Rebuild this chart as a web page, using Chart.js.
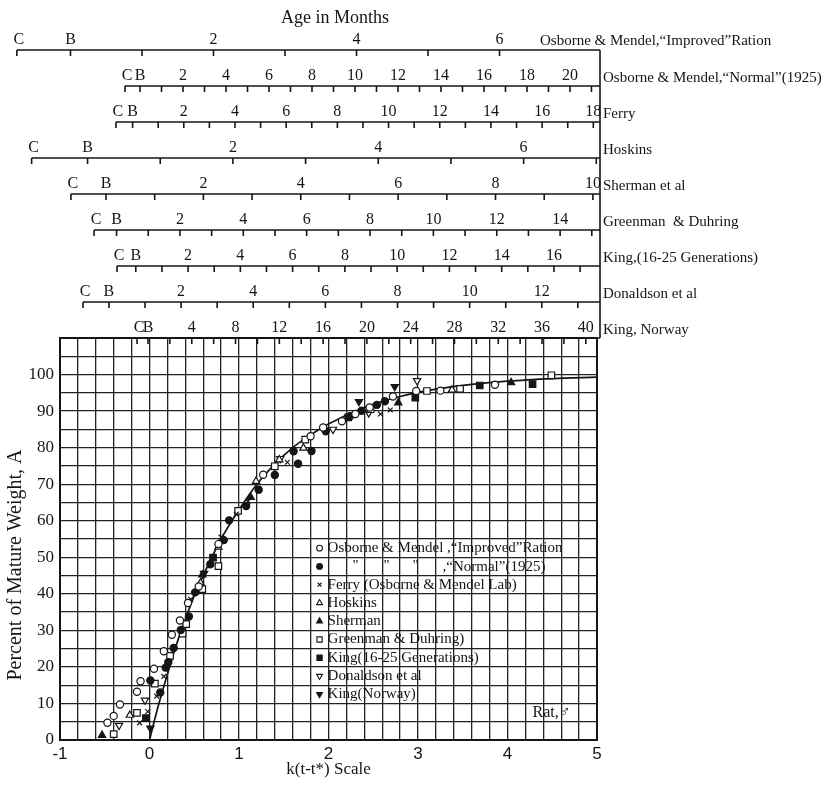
<!DOCTYPE html>
<html>
<head>
<meta charset="utf-8">
<title>Rat growth, percent of mature weight</title>
<script src="https://cdn.jsdelivr.net/npm/chart.js@4.4.1/dist/chart.umd.min.js"></script>
<style>
  html, body { margin: 0; padding: 0; background: #fff; }
  canvas { display: block; }
</style>
</head>
<body>
<canvas id="growthChart" width="830" height="785"></canvas>
<script>
const LETTER_FONT = '"Liberation Serif", "DejaVu Serif", serif';
const INK = "#151515";

// main axes
const kMin = -1, kMax = 5, kStep = 0.2;
const aMin = 0, aMax = 110, aStep = 5;

// fitted growth curve
const curveK = [0, 0.1, 0.2, 0.3, 0.4, 0.5, 0.6, 0.8, 1.0, 1.2, 1.4, 1.6, 1.8, 2.0, 2.4, 2.8, 3.2, 3.6, 4.0, 4.5, 5.0];
const curveA = [0, 9.5, 18, 26, 33, 39.5, 45, 55, 63, 70, 75.5, 80, 83.5, 86.5, 91, 94, 96, 97.3, 98.2, 98.9, 99.3];

// observations: [k(t-t*), percent of mature weight]
const improvedPts = [[-0.47, 4.7], [-0.40, 6.6], [-0.33, 9.7], [-0.14, 13.2], [-0.10, 16.1], [0.05, 19.5], [0.16, 24.3], [0.25, 28.8], [0.34, 32.7], [0.43, 37.5], [0.55, 42.0], [0.77, 53.6], [1.27, 72.6], [1.80, 83.1], [1.94, 85.5], [2.15, 87.2], [2.30, 89.2], [2.46, 91.0], [2.72, 94.0], [2.98, 95.5], [3.25, 95.6], [3.86, 97.2]];
const normalPts = [[0.01, 16.3], [0.12, 13.0], [0.18, 19.8], [0.21, 21.3], [0.27, 25.2], [0.35, 30.1], [0.44, 33.8], [0.51, 40.4], [0.68, 48.1], [0.83, 54.7], [0.89, 60.1], [1.08, 64.0], [1.22, 68.5], [1.40, 72.5], [1.61, 79.0], [1.66, 75.6], [1.81, 79.1], [1.97, 84.5], [2.24, 88.6], [2.37, 90.1], [2.54, 91.7], [2.63, 92.7]];
const ferryPts = [[-0.11, 4.7], [-0.02, 7.8], [0.08, 12.0], [0.16, 17.4], [0.46, 38.5], [0.80, 55.5], [0.97, 61.8], [1.10, 65.3], [1.54, 76.0], [2.58, 89.2], [2.69, 90.3]];
const hoskinsPts = [[-0.22, 6.8], [0.57, 43.0], [0.77, 52.8], [1.19, 70.8], [1.45, 76.7], [1.72, 79.9], [3.38, 95.8]];
const shermanPts = [[-0.53, 1.3], [0.59, 45.2], [1.13, 66.4], [2.78, 92.3], [4.04, 97.8]];
const greenmanPts = [[-0.40, 1.6], [-0.14, 7.4], [0.06, 15.4], [0.23, 23.0], [0.37, 29.1], [0.41, 31.7], [0.59, 41.3], [0.77, 47.6], [0.99, 62.7], [1.40, 74.9], [1.74, 82.2], [2.47, 90.5], [3.10, 95.5], [3.47, 96.1], [4.49, 99.8]];
const kingGenPts = [[-0.04, 6.0], [0.71, 49.9], [2.22, 88.3], [2.97, 93.7], [3.69, 97.0], [4.28, 97.4]];
const donaldsonPts = [[-0.34, 4.0], [-0.05, 10.9], [1.46, 77.0], [2.05, 85.0], [2.45, 89.5], [2.99, 98.3]];
const kingNorwayPts = [[0.01, 3.2], [0.61, 45.6], [2.34, 92.6], [2.74, 96.7]];

const legendLabels = [
  "Osborne & Mendel ,\u201cImproved\u201dRation",
  "",
  "Ferry (Osborne & Mendel Lab)",
  "Hoskins",
  "Sherman",
  "Greenman & Duhring)",
  "King(16-25 Generations)",
  "Donaldson et al",
  "King(Norway)",
];

// age scales above the plot: k(t-t*) at birth and per unit of age
const ageScaleNames = [
  "Osborne & Mendel,\u201cImproved\u201dRation",
  "Osborne & Mendel,\u201cNormal\u201d(1925)",
  "Ferry",
  "Hoskins",
  "Sherman et al",
  "Greenman  & Duhring",
  "King,(16-25 Generations)",
  "Donaldson et al",
  "King, Norway",
];
const birthK = [-0.883, -0.106, -0.189, -0.692, -0.486, -0.368, -0.153, -0.453, -0.017];
const kPerUnit = [0.799, 0.2402, 0.286, 0.812, 0.544, 0.354, 0.292, 0.403, 0.1223];
const conceptionAge = [-0.75, -0.7, -0.65, -0.77, -0.72, -0.71, -0.72, -0.72, -1];
const ageTickStep = [1, 1, 1, 1, 1, 1, 1, 1, 2];
const ageLabelStep = [2, 2, 2, 2, 2, 2, 2, 2, 4];
const ageLastTick = [6, 21, 18, 7, 10, 15, 17, 13, 40];

const seriesList = [improvedPts, normalPts, ferryPts, hoskinsPts, shermanPts, greenmanPts, kingGenPts, donaldsonPts, kingNorwayPts];
const markerStyles = [
  { pointStyle: "circle", rotation: 0, filled: false, radius: 3.6 },
  { pointStyle: "circle", rotation: 0, filled: true, radius: 3.6 },
  { pointStyle: "crossRot", rotation: 0, filled: false, radius: 3.4 },
  { pointStyle: "triangle", rotation: 0, filled: false, radius: 4.2 },
  { pointStyle: "triangle", rotation: 0, filled: true, radius: 4.2 },
  { pointStyle: "rect", rotation: 0, filled: false, radius: 4.6 },
  { pointStyle: "rect", rotation: 0, filled: true, radius: 4.6 },
  { pointStyle: "triangle", rotation: 180, filled: false, radius: 4.2 },
  { pointStyle: "triangle", rotation: 180, filled: true, radius: 4.2 },
];

const datasets = seriesList.map((pts, i) => {
  const m = markerStyles[i];
  return {
    label: legendLabels[i] || "Normal (1925)",
    data: pts.map(([k, a]) => ({ x: k, y: a })),
    showLine: false,
    pointStyle: m.pointStyle,
    pointRotation: m.rotation,
    pointRadius: m.radius,
    pointHoverRadius: m.radius,
    pointBackgroundColor: m.filled ? INK : "#fff",
    pointBorderColor: INK,
    pointBorderWidth: 1.2,
  };
});
datasets.push({
  label: "A = growth curve",
  data: curveK.map((k, j) => ({ x: k, y: curveA[j] })),
  showLine: true,
  pointRadius: 0,
  borderColor: INK,
  borderWidth: 1.7,
  cubicInterpolationMode: "monotone",
  fill: false,
});

function isWhole(v) {
  return Math.abs(v - Math.round(v)) < 1e-6;
}

// age scales, titles, in-plot key and frame
const decorPlugin = {
  id: "decor",
  afterDraw(chart) {
    const { ctx, chartArea } = chart;
    const xs = chart.scales.x;
    const ys = chart.scales.y;
    const rows = ageScaleNames.length;
    const rowGap = 36;

    ctx.save();
    ctx.strokeStyle = INK;
    ctx.fillStyle = INK;

    // frame
    ctx.lineWidth = 2;
    ctx.strokeRect(chartArea.left, chartArea.top, chartArea.right - chartArea.left, chartArea.bottom - chartArea.top);
    ctx.lineWidth = 1.6;

    ctx.font = `16px ${LETTER_FONT}`;
    ctx.textAlign = "center";
    ctx.textBaseline = "middle";
    for (let i = 0; i < rows; i++) {
      const y = chartArea.top - (rows - 1 - i) * rowGap;
      const px = (age) => xs.getPixelForValue(birthK[i] + age * kPerUnit[i]);
      const left = px(conceptionAge[i]);
      const tick = (xp) => {
        ctx.beginPath();
        ctx.moveTo(xp, y);
        ctx.lineTo(xp, y + 6);
        ctx.stroke();
      };

      ctx.beginPath();
      ctx.moveTo(left, y);
      ctx.lineTo(chartArea.right + 3, y);
      ctx.stroke();

      tick(left);
      tick(px(0));
      ctx.fillText("C", left + 2, y - 10);
      ctx.fillText("B", px(0), y - 10);
      for (let a = ageTickStep[i]; a <= ageLastTick[i]; a += ageTickStep[i]) {
        tick(px(a));
        if (a % ageLabelStep[i] === 0) ctx.fillText(String(a), px(a), y - 10);
      }
    }

    // right-hand edge joining the age scales to the plot
    const firstRowY = chartArea.top - (rows - 1) * rowGap;
    ctx.beginPath();
    ctx.moveTo(chartArea.right + 3, firstRowY);
    ctx.lineTo(chartArea.right + 3, chartArea.top);
    ctx.stroke();

    // scale names
    ctx.font = `15px ${LETTER_FONT}`;
    ctx.textAlign = "left";
    for (let i = 0; i < rows; i++) {
      const y = chartArea.top - (rows - 1 - i) * rowGap;
      if (i === 0) ctx.fillText(ageScaleNames[i], chartArea.right - 57, y - 9);
      else ctx.fillText(ageScaleNames[i], chartArea.right + 6, y - 8);
    }

    ctx.font = `18px ${LETTER_FONT}`;
    ctx.textAlign = "center";
    ctx.fillText("Age in Months", 335, 18);

    // y-axis title
    ctx.save();
    ctx.translate(16, 565);
    ctx.rotate(-Math.PI / 2);
    ctx.font = `20px ${LETTER_FONT}`;
    ctx.fillText("Percent of Mature Weight, A", 0, 0);
    ctx.restore();

    // key inside the grid
    ctx.font = `15px ${LETTER_FONT}`;
    ctx.textAlign = "left";
    const keyX = xs.getPixelForValue(1.9);
    seriesList.forEach((pts, i) => {
      const m = markerStyles[i];
      const y = ys.getPixelForValue(52.5 - 5 * i);
      ctx.fillStyle = m.filled ? INK : "#fff";
      ctx.strokeStyle = INK;
      ctx.lineWidth = 1.1;
      Chart.helpers.drawPoint(ctx, {
        pointStyle: m.pointStyle,
        rotation: m.rotation,
        radius: m.radius * 0.8,
        borderWidth: 1.1,
      }, keyX, y);
      ctx.fillStyle = INK;
      if (legendLabels[i]) {
        ctx.fillText(legendLabels[i], keyX + 8, y);
      } else {
        ctx.fillText('"', keyX + 33, y);
        ctx.fillText('"', keyX + 64, y);
        ctx.fillText('"', keyX + 93, y);
        ctx.fillText(",\u201cNormal\u201d(1925)", keyX + 123, y + 1);
      }
    });
    ctx.font = `16px ${LETTER_FONT}`;
    ctx.fillText("Rat,\u2642", xs.getPixelForValue(4.28), ys.getPixelForValue(7.5));

    ctx.restore();
  },
};

new Chart(document.getElementById("growthChart"), {
  type: "scatter",
  data: { datasets },
  plugins: [decorPlugin],
  options: {
    responsive: false,
    animation: false,
    layout: { padding: { top: 338, right: 233, left: 0, bottom: 0 } },
    plugins: {
      legend: { display: false },
      tooltip: { enabled: false },
    },
    scales: {
      x: {
        type: "linear",
        min: kMin,
        max: kMax,
        ticks: {
          stepSize: kStep,
          autoSkip: false,
          maxRotation: 0,
          padding: 4,
          color: INK,
          font: { family: '"Liberation Sans", sans-serif', size: 17 },
          callback: (v) => (isWhole(v) ? String(Math.round(v)) : ""),
        },
        grid: { color: "#222", lineWidth: 1.3, drawTicks: false },
        border: { color: INK, width: 2 },
        title: {
          display: true,
          text: "k(t-t*) Scale",
          color: INK,
          font: { family: LETTER_FONT, size: 17 },
          padding: { top: 0, bottom: 5 },
        },
        afterFit(scale) {
          scale.height = 45;
        },
      },
      y: {
        type: "linear",
        min: aMin,
        max: aMax,
        ticks: {
          stepSize: aStep,
          autoSkip: false,
          padding: 6,
          color: INK,
          font: { family: LETTER_FONT, size: 17 },
          callback: (v) => (v % 10 === 0 && v <= 100 ? String(v) : ""),
        },
        grid: { color: "#222", lineWidth: 1.3, drawTicks: false },
        border: { color: INK, width: 2 },
        afterFit(scale) {
          scale.width = 60;
        },
      },
    },
  },
});
</script>
</body>
</html>
